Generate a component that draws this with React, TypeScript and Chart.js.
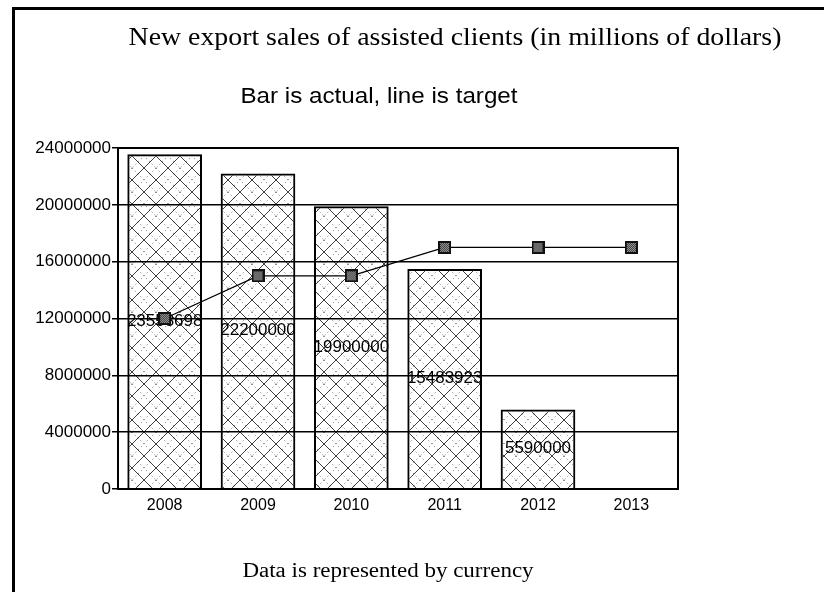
import React, { useEffect, useRef } from "react";
import { Chart, registerables } from "chart.js";

Chart.register(...registerables);

const years = ["2008", "2009", "2010", "2011", "2012", "2013"];
const actual = [23558698, 22200000, 19900000, 15483923, 5590000, null];
const target = [12000000, 15000000, 15000000, 17000000, 17000000, 17000000];
const yTicks = [0, 4000000, 8000000, 12000000, 16000000, 20000000, 24000000];
const titleText = "New export sales of assisted clients (in millions of dollars)";
const subtitleText = "Bar is actual, line is target";
const footerText = "Data is represented by currency";

function makeHatch(): CanvasPattern | string {
  const s = 24;
  const c = document.createElement("canvas");
  c.width = s;
  c.height = s;
  const g = c.getContext("2d");
  if (!g) return "transparent";
  g.lineWidth = 1;
  g.strokeStyle = "rgba(0,0,0,0.75)";
  for (const k of [-s, 0, s]) {
    g.beginPath();
    g.moveTo(k, 0);
    g.lineTo(k + s, s);
    g.moveTo(k + s, 0);
    g.lineTo(k, s);
    g.stroke();
  }
  g.setLineDash([1, 3]);
  g.strokeStyle = "rgba(0,0,0,0.6)";
  for (const k of [-s - 12, -12, 12, s + 12]) {
    g.beginPath();
    g.moveTo(k, 0);
    g.lineTo(k + s, s);
    g.moveTo(k + s, 0);
    g.lineTo(k, s);
    g.stroke();
  }
  const p = g.createPattern(c, "repeat");
  return p || "transparent";
}

function makeMarker(): HTMLCanvasElement {
  const s = 13;
  const c = document.createElement("canvas");
  c.width = s;
  c.height = s;
  const g = c.getContext("2d");
  if (g) {
    g.fillStyle = "#111";
    g.fillRect(0, 0, s, s);
    for (let y = 2; y < s - 2; y++) {
      for (let x = 2; x < s - 2; x++) {
        g.fillStyle = (x + y) % 2 === 0 ? "#9a9a9a" : "#3a3a3a";
        g.fillRect(x, y, 1, 1);
      }
    }
  }
  return c;
}

function stretchText(ctx: CanvasRenderingContext2D, text: string, cx: number, cy: number, font: string, sx: number) {
  ctx.save();
  ctx.translate(cx, cy);
  ctx.scale(sx, 1);
  ctx.font = font;
  ctx.fillText(text, 0, 0);
  ctx.restore();
}

export default function App() {
  const ref = useRef<HTMLCanvasElement | null>(null);

  useEffect(() => {
    const canvas = ref.current;
    if (!canvas) return;

    const decor = {
      id: "decor",
      beforeDraw(chart: any) {
        const ctx = chart.ctx;
        ctx.save();
        ctx.fillStyle = "#fff";
        ctx.fillRect(0, 0, chart.width, chart.height);
        ctx.strokeStyle = "#000";
        ctx.lineWidth = 3;
        ctx.beginPath();
        ctx.moveTo(13.5, chart.height);
        ctx.lineTo(13.5, 8.5);
        ctx.lineTo(chart.width, 8.5);
        ctx.stroke();
        ctx.fillStyle = "#000";
        ctx.textAlign = "center";
        ctx.textBaseline = "middle";
        stretchText(ctx, titleText, 455, 38, '26px "Liberation Serif", "Times New Roman", serif', 1.07);
        stretchText(ctx, subtitleText, 379, 97, '22px "Liberation Sans", Arial, sans-serif', 1.1);
        stretchText(ctx, footerText, 388, 572, '20px "Liberation Serif", "Times New Roman", serif', 1.15);
        ctx.restore();
      },
      beforeDatasetsDraw(chart: any) {
        const { ctx, chartArea } = chart;
        ctx.save();
        ctx.strokeStyle = "#000";
        ctx.lineWidth = 2;
        ctx.strokeRect(chartArea.left, chartArea.top, chartArea.right - chartArea.left, chartArea.bottom - chartArea.top);
        ctx.restore();
      },
      afterDatasetDraw(chart: any, args: any) {
        if (args.index !== 0) return;
        const ctx = chart.ctx;
        const meta = chart.getDatasetMeta(0);
        ctx.save();
        ctx.fillStyle = "#000";
        ctx.textAlign = "center";
        ctx.textBaseline = "middle";
        meta.data.forEach((el: any, i: number) => {
          const v = actual[i];
          if (v === null || v === undefined) return;
          stretchText(ctx, String(v), el.x, (el.y + el.base) / 2, '16px "Liberation Sans", Arial, sans-serif', 1.06);
        });
        ctx.restore();
      },
    };

    const chart = new Chart(canvas, {
      type: "bar",
      data: {
        labels: years,
        datasets: [
          {
            type: "bar",
            label: "Actual",
            data: actual,
            backgroundColor: makeHatch() as any,
            borderColor: "#000",
            borderWidth: 2,
            categoryPercentage: 0.8,
            barPercentage: 1.0,
            order: 1,
          },
          {
            type: "line",
            label: "Target",
            data: target,
            borderColor: "#000",
            borderWidth: 1.2,
            pointStyle: makeMarker() as any,
            pointRadius: 6,
            tension: 0,
            order: 0,
          } as any,
        ],
      },
      options: {
        animation: false,
        responsive: false,
        maintainAspectRatio: false,
        layout: { padding: { left: 0, right: 146, top: 148, bottom: 63 } },
        plugins: {
          legend: { display: false },
          title: { display: false },
          tooltip: { enabled: false },
        },
        scales: {
          x: {
            grid: { display: false, drawTicks: false },
            border: { display: true, color: "#000", width: 2 },
            ticks: {
              color: "#000",
              padding: 7,
              font: { family: '"Liberation Sans", Arial, sans-serif', size: 16 },
            },
            afterFit(scale: any) {
              scale.height = 40;
            },
          },
          y: {
            min: 0,
            max: 24000000,
            grid: { color: "#000", lineWidth: 1.5, tickLength: 6 },
            border: { display: true, color: "#000", width: 2 },
            afterBuildTicks(scale: any) {
              scale.ticks = yTicks.map((v) => ({ value: v }));
            },
            ticks: {
              color: "#000",
              padding: 1,
              font: { family: '"Liberation Sans", Arial, sans-serif', size: 17 },
              callback: (v: any) => String(v),
            },
            afterFit(scale: any) {
              scale.width = 118;
            },
          },
        },
      },
      plugins: [decor],
    } as any);

    return () => chart.destroy();
  }, []);

  return (
    <div style={{ position: "absolute", left: 0, top: 0, width: 824, height: 592 }}>
      <canvas ref={ref} width={824} height={592} style={{ width: 824, height: 592, display: "block" }} />
    </div>
  );
}
